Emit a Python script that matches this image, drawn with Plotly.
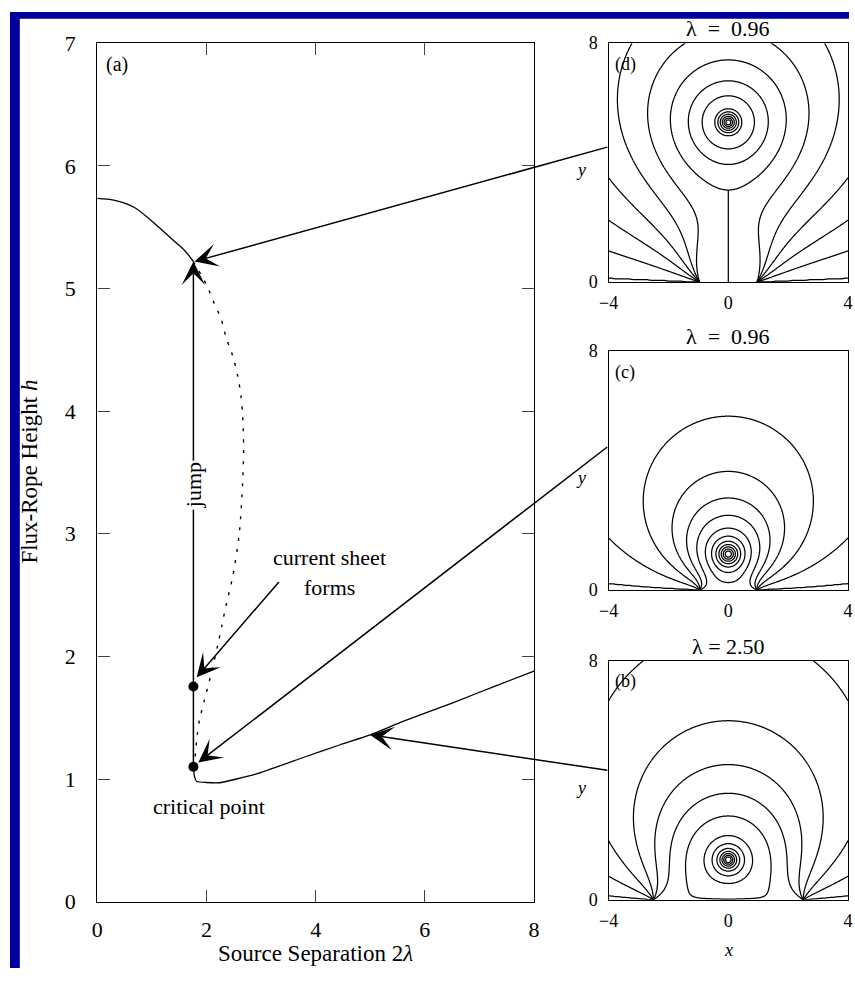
import numpy as np
import plotly.graph_objects as go

FONT = "Liberation Serif"
W, H = 855, 981
BLUE = "#0000A0"

# ---------- (a) flux-rope height h against source separation 2*lambda ----------
upper_sep = [0.0, 0.3, 0.68, 1.1, 1.4, 1.6, 1.76]
upper_h = [5.735, 5.72, 5.66, 5.51, 5.39, 5.31, 5.22]

lower_sep = [1.76, 1.78, 1.82, 2.0, 2.23, 2.9, 3.8, 4.45, 5.0, 5.6, 6.5, 7.3, 8.0]
lower_h = [1.10, 1.02, 0.98, 0.972, 0.97, 1.04, 1.18, 1.28, 1.36, 1.47, 1.62, 1.76, 1.88]

unstable_sep = [1.76, 2.0, 2.14, 2.27, 2.36, 2.48, 2.57, 2.63, 2.66, 2.68, 2.66, 2.6,
                2.48, 2.36, 2.28, 2.21, 2.08, 1.96, 1.87, 1.82, 1.78]
unstable_h = [5.22, 5.03, 4.88, 4.75, 4.6, 4.45, 4.29, 4.13, 3.98, 3.7, 3.4, 3.0,
              2.65, 2.42, 2.25, 2.1, 1.85, 1.64, 1.48, 1.32, 1.10]

dot_sep = [1.76, 1.76]
dot_h = [1.10, 1.755]

main_xticks = [0, 2, 4, 6, 8]
main_yticks = [0, 1, 2, 3, 4, 5, 6, 7]

# ---------- field-line panels, top to bottom: (d), (c), (b) ----------
panel_tags = ["(d)", "(c)", "(b)"]
panel_lambda = [0.96, 0.96, 2.50]
panel_rope_h = [5.35, 1.20, 1.34]
panel_titles = ["λ  =  0.96", "λ  =  0.96", "λ = 2.50"]
# heights at which drawn field lines cross x = 0 above the rope
axis_cross = [
    [7.44, 6.74, 6.24, 5.80, 5.70, 5.62, 5.55, 5.49, 5.44],
    [5.82, 3.97, 3.08, 2.50, 2.07, 1.80, 1.63, 1.52, 1.44, 1.37, 1.31],
    [6.00, 4.53, 3.57, 2.81, 2.15, 1.88, 1.72, 1.62, 1.55, 1.49, 1.44],
]
# heights at which field lines leave through the left edge x = -4
edge_cross = [
    [3.49, 2.07, 1.04, 0.13],
    [1.74, 0.22],
    [6.67, 1.99, 0.79, 0.14],
]
# further points lying on drawn field lines
extra_points = [
    [(-3.62, 6.93), (-2.69, 5.46)],
    [],
    [],
]
panel_xticks = [-4, 0, 4]
panel_yticks = [0, 8]


def flux(x, y, lam, h):
    """Flux function: two line sources at x = +/-lam on y = 0 plus a line
    current at (0, h) with its image at (0, -h); the current strength is the
    one that holds the rope in equilibrium."""
    k = -(4.0 / np.pi) * lam * h / (lam ** 2 + h ** 2)
    a_src = (np.arctan2(y, x - lam) - np.arctan2(y, x + lam)) / np.pi
    r1 = np.maximum(np.hypot(x, y - h), 1e-4)
    r2 = np.hypot(x, y + h)
    return a_src + k * np.log(r1 / r2)


fig = go.Figure()

line_style = dict(color="black", width=1.3)
fig.add_trace(go.Scatter(x=upper_sep, y=upper_h, mode="lines", line=dict(**line_style, shape="spline", smoothing=0.8),
                         hoverinfo="skip", showlegend=False))
fig.add_trace(go.Scatter(x=lower_sep, y=lower_h, mode="lines", line=dict(**line_style, shape="spline", smoothing=0.5),
                         hoverinfo="skip", showlegend=False))
fig.add_trace(go.Scatter(x=unstable_sep, y=unstable_h, mode="lines",
                         line=dict(color="black", width=1.4, dash="3px,8px", shape="spline", smoothing=0.8),
                         hoverinfo="skip", showlegend=False))
fig.add_trace(go.Scatter(x=dot_sep, y=dot_h, mode="markers", marker=dict(color="black", size=10),
                         hoverinfo="skip", showlegend=False))

xs = np.linspace(-4.0, 4.0, 321)
ys = np.linspace(0.0, 8.0, 321)
GX, GY = np.meshgrid(xs, ys)

for i in range(3):
    lam, h = panel_lambda[i], panel_rope_h[i]
    ax_id = str(i + 2)
    A = flux(GX, GY, lam, h)
    pts = [(0.0, y) for y in axis_cross[i]] + [(-4.0, y) for y in edge_cross[i]] + list(extra_points[i])
    vals = sorted(float(flux(px, py, lam, h)) for px, py in pts)
    levels = []
    for v in vals:
        if not levels or v - levels[-1] > 1e-3:
            levels.append(v)
    n = len(levels)

    sheet_top = None
    if 3 * lam ** 2 < h ** 2:
        # no null on the base: the flux below the X-point is swept into a
        # vertical current sheet that runs up to the lowest closed loop round the rope
        yy = np.linspace(0.01, h - 0.05, 6000)
        ay = flux(np.zeros_like(yy), yy, lam, h)
        j = int(np.argmin(ay))
        a_x, y_x = float(ay[j]), float(yy[j])
        A = np.where((A > a_x) & (GY < y_x), a_x, A)
        above = [lv for lv in levels if lv > a_x]
        if above:
            sheet_top = float(yy[j + int(np.argmax(ay[j:] >= above[0]))])
        else:
            sheet_top = y_x

    xp = [float(A.min()) - 1.0] + levels + [float(A.max()) + 1.0]
    fp = [0.0] + [float(m) for m in range(1, n + 1)] + [n + 1.0]
    G = np.round(np.interp(A, xp, fp), 4)

    fig.add_trace(go.Contour(
        x=xs, y=ys, z=G, xaxis="x" + ax_id, yaxis="y" + ax_id,
        contours=dict(start=1, end=n, size=1, coloring="lines", showlabels=False),
        colorscale=[[0, "black"], [1, "black"]], line=dict(width=1.25),
        showscale=False, hoverinfo="skip", showlegend=False))

    if sheet_top is not None:
        fig.add_trace(go.Scatter(x=[0, 0], y=[0, sheet_top], mode="lines", xaxis="x" + ax_id, yaxis="y" + ax_id,
                                 line=dict(color="black", width=1.25), hoverinfo="skip", showlegend=False))

main_dom_x = [89 / W, 534 / W]
main_dom_y = [1 - 913 / H, 1 - 32 / H]
panel_dom_x = [610 / W, 854 / W]
panel_px = [(32, 277), (348, 593), (666, 911)]

tickfont_main = dict(family=FONT, size=22, color="black")
tickfont_panel = dict(family=FONT, size=18, color="black")

layout = dict(
    width=W, height=H, autosize=False,
    margin=dict(l=0, r=0, t=0, b=0),
    paper_bgcolor="white", plot_bgcolor="white",
    showlegend=False,
    xaxis=dict(domain=main_dom_x, range=[0, 8], tickvals=main_xticks, ticks="inside", ticklen=12,
               tickwidth=1.4, showline=True, linewidth=1.4, linecolor="black", mirror="ticks",
               showgrid=False, zeroline=False, tickfont=tickfont_main, ticklabelstandoff=8,
               anchor="y"),
    yaxis=dict(domain=main_dom_y, range=[0, 7], tickvals=main_yticks, ticks="inside", ticklen=12,
               tickwidth=1.4, showline=True, linewidth=1.4, linecolor="black", mirror="ticks",
               showgrid=False, zeroline=False, tickfont=tickfont_main, ticklabelstandoff=16,
               anchor="x"),
    # dark frame strips along the left and top edges
    shapes=[
        dict(type="rect", xref="paper", yref="paper", x0=0, x1=10 / W, y0=0, y1=1,
             fillcolor=BLUE, line=dict(width=0), layer="below"),
        dict(type="rect", xref="paper", yref="paper", x0=0, x1=1, y0=1 - 7 / H, y1=1,
             fillcolor=BLUE, line=dict(width=0), layer="below"),
    ],
)

for i in range(3):
    ax_id = str(i + 2)
    top, bot = panel_px[i]
    layout["xaxis" + ax_id] = dict(domain=panel_dom_x, range=[-4, 4], tickvals=panel_xticks, ticks="",
                                   showline=True, linewidth=1.4, linecolor="black", mirror=True,
                                   showgrid=False, zeroline=False, tickfont=tickfont_panel,
                                   ticklabelstandoff=4, anchor="y" + ax_id)
    layout["yaxis" + ax_id] = dict(domain=[1 - bot / H, 1 - top / H], range=[0, 8], tickvals=panel_yticks,
                                   ticks="", showline=True, linewidth=1.4, linecolor="black", mirror=True,
                                   showgrid=False, zeroline=False, tickfont=tickfont_panel,
                                   ticklabelstandoff=6, anchor="x" + ax_id)

fig.update_layout(**layout)

txt = dict(family=FONT, size=22, color="black")
C = dict(xanchor="center", yanchor="middle", showarrow=False)
ann = []
# panel (a) labels
ann.append(dict(C, x=0.36, y=6.83, xref="x", yref="y", text="(a)", font=dict(family=FONT, size=20, color="black")))
ann.append(dict(C, x=2.05, y=0.78, xref="x", yref="y", text="critical point", font=txt))
ann.append(dict(C, x=4.25, y=2.81, xref="x", yref="y", text="current sheet", font=txt))
ann.append(dict(C, x=4.25, y=2.56, xref="x", yref="y", text="forms", font=txt))

arrow = dict(showarrow=True, arrowhead=3, arrowsize=2.6, arrowwidth=1.5, arrowcolor="black",
             text="", standoff=0, startstandoff=0, xref="x", yref="y", axref="x", ayref="y")
# jump from the critical point to the upper branch
ann.append(dict(arrow, x=1.76, y=5.22, ax=1.76, ay=1.10))
# panel pointers
ann.append(dict(arrow, x=1.78, y=5.22, ax=9.37, ay=6.156))
ann.append(dict(arrow, x=1.85, y=1.136, ax=9.37, ay=3.717))
ann.append(dict(arrow, x=5.0, y=1.36, ax=9.37, ay=1.07))
ann.append(dict(arrow, x=1.82, y=1.83, ax=3.35, ay=2.62))
ann.append(dict(C, x=1.76, y=3.4, xref="x", yref="y", text="jump", textangle=-90,
                bgcolor="white", font=txt))

# axis titles
ann.append(dict(C, x=(89 + 534) / 2 / W, y=1 - 966 / H, xref="paper", yref="paper",
                text="Source Separation 2<i>λ</i>", font=dict(family=FONT, size=23, color="black")))
ann.append(dict(C, x=20 / W, y=1 - 472 / H, xref="paper", yref="paper", text="Flux-Rope Height <i>h</i>",
                textangle=-90, font=dict(family=FONT, size=23, color="black")))

for i in range(3):
    ax_id = str(i + 2)
    ann.append(dict(C, x=-3.45, y=7.3, xref="x" + ax_id, yref="y" + ax_id, text=panel_tags[i],
                    font=dict(family=FONT, size=18, color="black")))
    ann.append(dict(showarrow=False, xanchor="center", yanchor="bottom", x=0.5, y=1,
                    xref="x" + ax_id + " domain", yref="y" + ax_id + " domain",
                    text=panel_titles[i], font=dict(family=FONT, size=22, color="black")))
    ann.append(dict(C, x=582 / W, y=0.47, xref="paper", yref="y" + ax_id + " domain", text="<i>y</i>",
                    font=dict(family=FONT, size=18, color="black")))
ann.append(dict(C, x=0.5, y=1 - 963 / H, xref="x4 domain", yref="paper", text="<i>x</i>",
                font=dict(family=FONT, size=18, color="black")))

fig.update_layout(annotations=ann)
fig.write_html("out.html")
